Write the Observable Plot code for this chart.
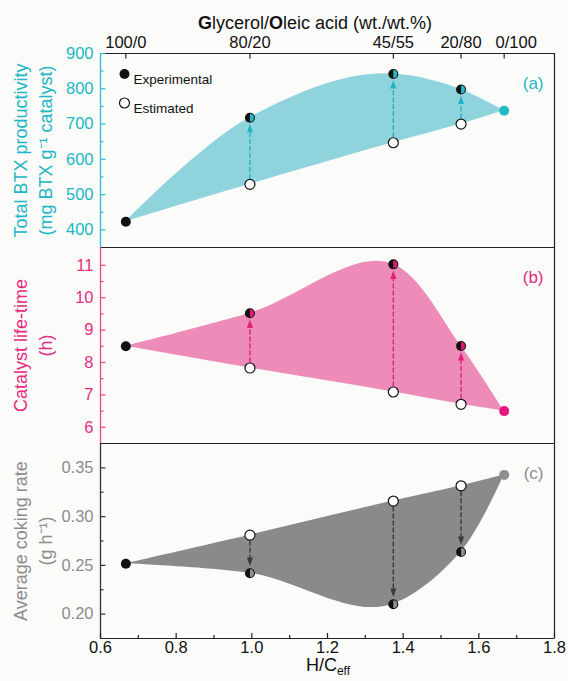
<!DOCTYPE html>
<html>
<head>
<meta charset="utf-8">
<script src="https://cdn.jsdelivr.net/npm/d3@7"></script>
<script src="https://cdn.jsdelivr.net/npm/@observablehq/plot@0.6"></script>
<style>
  html, body { margin: 0; padding: 0; background: #fbfbfa; }
  body { font-family: "Liberation Sans", Arial, sans-serif; }
  #wrap { position: relative; width: 568px; height: 681px; overflow: hidden; }
  #wrap svg { display: block; }
  #toptitle { position: absolute; left: 0; width: 630px; top: 12px; line-height: 22px;
              font-size: 18px; text-align: center; color: #111; white-space: nowrap; }
  #toptitle b { font-weight: bold; }
  #xtitle { position: absolute; left: 0; width: 656px; top: 655px; line-height: 20px;
            font-size: 18px; text-align: center; color: #111; white-space: nowrap; }
  #xtitle sub { font-size: 12px; vertical-align: -4px; line-height: 0; }
</style>
</head>
<body>
<div id="wrap">
  <div id="panels"></div>
  <div id="toptitle"><b>G</b>lycerol/<b>O</b>leic acid (wt./wt.%)</div>
  <div id="xtitle">H/C<sub>eff</sub></div>
</div>
<script>
// ---------------- data ----------------
const hc = [0.667, 0.995, 1.374, 1.553, 1.667];              // H/C_eff of each feed
const ratioLabels = ["100/0", "80/20", "45/55", "20/80", "0/100"]; // glycerol/oleic acid
const btxExp = [423, 718, 842, 798, 738];
const btxEst = [null, 529, 647, 700, null];
const lifeExp = [8.5, 9.52, 11.03, 8.51, 6.5];
const lifeEst = [null, 7.83, 7.09, 6.71, null];
const cokeExp = [0.2517, 0.242, 0.2102, 0.2637, 0.3428];
const cokeEst = [null, 0.281, 0.316, 0.3316, null];

const xDomain = [0.6, 1.8];
const xMajor = [0.6, 0.8, 1.0, 1.2, 1.4, 1.6, 1.8];
const xMinor = [0.7, 0.9, 1.1, 1.3, 1.5, 1.7];

const btxDomain = [350, 900];
const btxMajor = [400, 500, 600, 700, 800, 900];
const btxMinor = [450, 550, 650, 750, 850];
const lifeDomain = [5.5, 11.55];
const lifeMajor = [6, 7, 8, 9, 10, 11];
const lifeMinor = [6.5, 7.5, 8.5, 9.5, 10.5];
const cokeDomain = [0.175, 0.375];
const cokeMajor = [0.20, 0.25, 0.30, 0.35];
const cokeMinor = [0.225, 0.275, 0.325];

// ---------------- symbols ----------------
const halfRight = { draw(ctx, size) { const r = Math.sqrt(size / Math.PI);
  ctx.moveTo(0, -r); ctx.arc(0, 0, r, -Math.PI / 2, Math.PI / 2); ctx.closePath(); } };
const triUp = { draw(ctx, size) { const r = Math.sqrt(size / Math.PI);
  ctx.moveTo(0, -1.25 * r); ctx.lineTo(0.8 * r, 0.95 * r); ctx.lineTo(-0.8 * r, 0.95 * r); ctx.closePath(); } };
const triDown = { draw(ctx, size) { const r = Math.sqrt(size / Math.PI);
  ctx.moveTo(0, 1.25 * r); ctx.lineTo(0.8 * r, -0.95 * r); ctx.lineTo(-0.8 * r, -0.95 * r); ctx.closePath(); } };
const tickH = len => ({ draw(ctx) { ctx.moveTo(0, 0); ctx.lineTo(len, 0); } });
const tickV = len => ({ draw(ctx) { ctx.moveTo(0, 0); ctx.lineTo(0, len); } });

const FONT = "'Liberation Sans', Arial, sans-serif";
const smooth = d3.curveCatmullRom.alpha(1);

function panel(o) {
  const rows = hc.map((x, i) => ({ x, i, exp: o.exp[i], est: o.est[i], low: o.est[i] ?? o.exp[i] }));
  const mid = rows.filter(d => d.est != null);
  const last = rows.length - 1;
  const up = o.direction === "up";
  const marks = [
    Plot.areaY(rows, { x: "x", y1: "low", y2: "exp", curve: smooth, fill: o.fill }),
    Plot.arrow(mid, { x1: "x", y1: "est", x2: "x", y2: "exp", headLength: 0, insetStart: 6,
      insetEnd: up ? 15 : 16, stroke: o.arrow, strokeWidth: 1.4, strokeDasharray: "4,3" }),
    Plot.dot(mid, { x: "x", y: "exp", dy: up ? 11 : -12, symbol: up ? triUp : triDown, r: 3.8, fill: o.arrow }),
    Plot.dot(mid, { x: "x", y: "est", r: 5, fill: "white", stroke: "#111", strokeWidth: 1.2 }),
    Plot.dot(rows.filter(d => d.i < last), { x: "x", y: "exp", r: 5, fill: "#111" }),
    Plot.dot(mid, { x: "x", y: "exp", r: 3.9, symbol: halfRight, fill: o.point }),
    Plot.dot(rows.filter(d => d.i === last), { x: "x", y: "exp", r: 5, fill: o.point }),
    // frame
    Plot.ruleX([xDomain[1]], { stroke: "#222", strokeWidth: 1.2 }),
    Plot.ruleY([o.domain[1]], { stroke: "#222", strokeWidth: 1.2 }),
    Plot.ruleY([o.domain[0]], { stroke: "#222", strokeWidth: 1.2 }),
    Plot.ruleX([xDomain[0]], { stroke: o.axisLine, strokeWidth: 1.3 }),
    // y ticks (inward)
    Plot.dot(o.major, { x: () => xDomain[0], y: d => d, symbol: tickH(5), stroke: o.axisLine, strokeWidth: 1.2, fill: "none" }),
    Plot.dot(o.minor, { x: () => xDomain[0], y: d => d, symbol: tickH(3), stroke: o.axisLine, strokeWidth: 1.2, fill: "none" }),
    Plot.axisY({ ticks: o.major, tickSize: 0, tickPadding: 7, label: null, color: o.color,
      tickFormat: o.fmt, fontSize: 16.5 }),
    Plot.text([o.title], { frameAnchor: "left", dx: -69, rotate: -90, textAnchor: "middle", lineAnchor: "middle",
      lineHeight: 1.42, fontSize: 18, fill: o.color }),
    Plot.text([o.tag], { frameAnchor: "top-right", dx: -11, dy: 23, textAnchor: "end",
      fontSize: 17, fill: o.color })
  ];
  if (o.top) {
    const lastTick = [hc[hc.length - 1]];
    const otherTicks = hc.slice(0, -1);
    const fmtRatio = d => ratioLabels[hc.indexOf(d)];
    marks.push(
      Plot.dot(hc, { x: d => d, y: () => o.domain[1], symbol: tickV(5), stroke: "#222", strokeWidth: 1.2, fill: "none" }),
      Plot.axisX({ anchor: "top", ticks: otherTicks, tickSize: 0, tickPadding: 6, label: null,
        tickFormat: fmtRatio, fontSize: 16.5, color: "#111" }),
      Plot.axisX({ anchor: "top", ticks: lastTick, tickSize: 0, tickPadding: 6, label: null,
        tickFormat: fmtRatio, fontSize: 16.5, color: "#111", dx: 12 }),
      Plot.dot([0], { frameAnchor: "top-left", dx: 24, dy: 20.5, r: 5, fill: "#111" }),
      Plot.text(["Experimental"], { frameAnchor: "top-left", dx: 33, dy: 21, textAnchor: "start", fontSize: 13.5, fill: "#111" }),
      Plot.dot([0], { frameAnchor: "top-left", dx: 24, dy: 49.5, r: 5, fill: "white", stroke: "#111", strokeWidth: 1.2 }),
      Plot.text(["Estimated"], { frameAnchor: "top-left", dx: 33, dy: 50, textAnchor: "start", fontSize: 13.5, fill: "#111" })
    );
  }
  if (o.bottom) {
    marks.push(
      Plot.dot(xMajor, { x: d => d, y: () => o.domain[0], symbol: tickV(-5.5), stroke: "#222", strokeWidth: 1.2, fill: "none" }),
      Plot.dot(xMinor, { x: d => d, y: () => o.domain[0], symbol: tickV(-3.5), stroke: "#222", strokeWidth: 1.2, fill: "none" }),
      Plot.axisX({ anchor: "bottom", ticks: xMajor, tickSize: 0, tickPadding: 3, label: null,
        tickFormat: d3.format(".1f"), fontSize: 16.5, color: "#111" })
    );
  }
  return Plot.plot({
    width: 568, height: o.height,
    marginLeft: 100, marginRight: 14, marginTop: o.mt, marginBottom: o.mb,
    x: { domain: xDomain, axis: o.top || o.bottom ? undefined : null },
    y: { domain: o.domain },
    style: { fontFamily: FONT, fontSize: "16.5px", background: "transparent", overflow: "visible" },
    marks
  });
}

const host = document.getElementById("panels");
host.append(panel({
  height: 247, mt: 53, mb: 0, top: true, direction: "up",
  exp: btxExp, est: btxEst, domain: btxDomain, major: btxMajor, minor: btxMinor,
  fmt: d3.format("d"), color: "#20b6c5", axisLine: "#2cbcc9", fill: "#8fd3dd",
  point: "#25bac7", arrow: "#22b3c2", tag: "(a)",
  title: "Total BTX productivity\n(mg BTX g\u207B\u00B9 catalyst)"
}));
host.append(panel({
  height: 196, mt: 0, mb: 0, direction: "up",
  exp: lifeExp, est: lifeEst, domain: lifeDomain, major: lifeMajor, minor: lifeMinor,
  fmt: d3.format("d"), color: "#e62b82", axisLine: "#e8468f", fill: "#ee8cb9",
  point: "#e5177d", arrow: "#e0207c", tag: "(b)",
  title: "Catalyst life-time\n(h)"
}));
host.append(panel({
  height: 238, mt: 0, mb: 43, bottom: true, direction: "down",
  exp: cokeExp, est: cokeEst, domain: cokeDomain, major: cokeMajor, minor: cokeMinor,
  fmt: d3.format(".2f"), color: "#8d8d8d", axisLine: "#333", fill: "#8a8a8a",
  point: "#8f8f8f", arrow: "#3a3a3a", tag: "(c)",
  title: "Average coking rate\n(g h\u207B\u00B9)"
}));
</script>
</body>
</html>
